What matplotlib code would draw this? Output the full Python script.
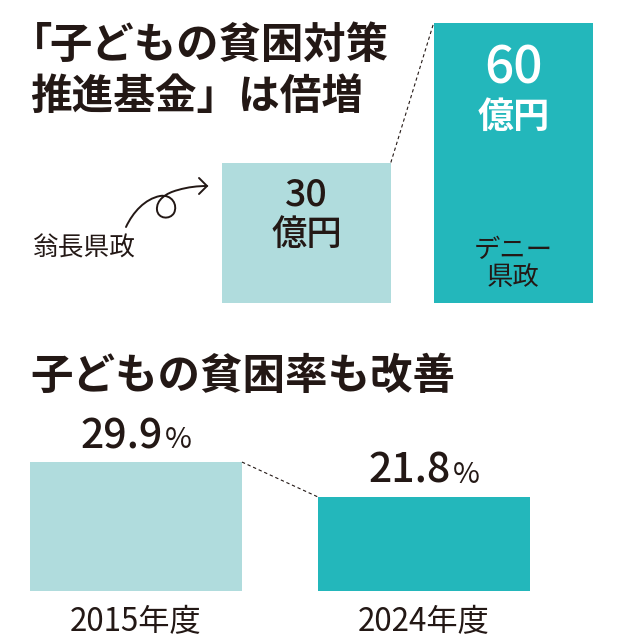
import matplotlib
matplotlib.use('Agg')
import matplotlib.pyplot as plt
from matplotlib.path import Path
from matplotlib.patches import PathPatch

plt.rcParams['font.family'] = ['Noto Sans CJK JP', 'DejaVu Sans']

# data
fund_labels = ['翁長県政', 'デニー県政']
fund_values = [30, 60]          # 億円
rate_years = ['2015年度', '2024年度']
rate_values = [29.9, 21.8]      # %

LIGHT = '#b0dcdd'
DARK = '#23b7bb'
INK = '#231815'

W, H = 618, 640


def fx(px):
    return px / W


def fy(py):
    return 1 - py / H


fig = plt.figure(figsize=(W / 100, H / 100), dpi=100)

# ---- top chart: fund size ----
ax1 = fig.add_axes([fx(99.5), fy(302.5), fx(517.5), 280 / H])
ax1.set_xlim(-1, 1.5)
ax1.set_ylim(0, 60)
ax1.axis('off')
x1 = [0, 1]
w1 = [0.815, 0.77]
ax1.bar(x1, fund_values, width=w1, color=[LIGHT, DARK])
ax1.plot([x1[0] + w1[0] / 2, x1[1] - w1[1] / 2], fund_values,
         color=INK, lw=0.8, ls=(0, (3, 2.5)), clip_on=False)

# light bar labels
ax1.annotate(str(fund_values[0]), xy=(x1[0], fund_values[0]), xytext=(0, -42.5),
             textcoords='offset pixels', ha='center', va='baseline',
             fontsize=27, color=INK, fontweight='medium')
ax1.annotate('億円', xy=(x1[0], fund_values[0]), xytext=(0, -82),
             textcoords='offset pixels', ha='center', va='baseline',
             fontsize=25.5, color=INK, fontweight='medium')
# dark bar labels
ax1.annotate(str(fund_values[1]), xy=(x1[1], fund_values[1]), xytext=(0, -60.5),
             textcoords='offset pixels', ha='center', va='baseline',
             fontsize=37, color='white', fontweight='medium')
ax1.annotate('億円', xy=(x1[1], fund_values[1]), xytext=(0, -105),
             textcoords='offset pixels', ha='center', va='baseline',
             fontsize=26, color='white', fontweight='bold')
ax1.annotate(fund_labels[1][:3], xy=(x1[1], 0), xytext=(0, 44.5),
             textcoords='offset pixels', ha='center', va='baseline',
             fontsize=19, color=INK)
ax1.annotate(fund_labels[1][3:], xy=(x1[1], 0), xytext=(0, 17.5),
             textcoords='offset pixels', ha='center', va='baseline',
             fontsize=19, color=INK)

fig.text(fx(32), fy(256), fund_labels[0], fontsize=18.5, color=INK,
         ha='left', va='baseline')

# curly arrow from the label to the light bar
pts = [(126, 227), (133, 212), (145, 199), (160, 196),
       (172, 194), (178, 205), (174, 213),
       (170, 220), (158, 219), (157, 210),
       (156, 200), (166, 193), (178, 190),
       (188, 187), (198, 186), (207, 186)]
codes = [Path.MOVETO] + [Path.CURVE4] * 15
arrow = Path([(fx(a), fy(b)) for a, b in pts], codes)
fig.add_artist(PathPatch(arrow, transform=fig.transFigure, fill=False,
                         ec=INK, lw=1.4, capstyle='round'))
head = Path([(fx(199), fy(178)), (fx(207), fy(186)), (fx(199), fy(194))],
            [Path.MOVETO, Path.LINETO, Path.LINETO])
fig.add_artist(PathPatch(head, transform=fig.transFigure, fill=False,
                         ec=INK, lw=1.4, capstyle='round', joinstyle='miter'))

# titles
fig.text(fx(10), fy(58), '「', fontsize=30.5, fontweight='bold',
         color=INK, ha='left', va='baseline')
fig.text(fx(49), fy(58), '子どもの貧困対策', fontsize=30.5, fontweight='bold',
         color=INK, ha='left', va='baseline')
fig.text(fx(30), fy(109), '推進基金」は倍増', fontsize=30, fontweight='bold',
         color=INK, ha='left', va='baseline')

# ---- bottom chart: child poverty rate ----
ax2 = fig.add_axes([fx(6.4), fy(591), fx(590.4), 138 / H])
ax2.set_xlim(-0.45, 1.6)
ax2.set_ylim(0, 32)
ax2.axis('off')
x2 = [0, 1]
w2 = 0.736
ax2.bar(x2, rate_values, width=w2, color=[LIGHT, DARK])
ax2.plot([x2[0] + w2 / 2, x2[1] - w2 / 2], rate_values,
         color=INK, lw=0.8, ls=(0, (3, 2.5)), clip_on=False)

for xi, v, yr in zip(x2, rate_values, rate_years):
    ax2.annotate(f'{v:.1f}', xy=(xi, v), xytext=(27, 14),
                 textcoords='offset pixels', ha='right', va='baseline',
                 fontsize=29.5, color=INK, fontweight='medium')
    ax2.annotate('%', xy=(xi, v), xytext=(29, 14),
                 textcoords='offset pixels', ha='left', va='baseline',
                 fontsize=21, color=INK)
    ax2.annotate(yr, xy=(xi, 0), xytext=(0, -40),
                 textcoords='offset pixels', ha='center', va='baseline',
                 fontsize=22.5, color=INK, annotation_clip=False)

fig.text(fx(30), fy(389), '子どもの貧困率も改善', fontsize=30.6, fontweight='bold',
         color=INK, ha='left', va='baseline')

fig.savefig('out.png', dpi=100)
